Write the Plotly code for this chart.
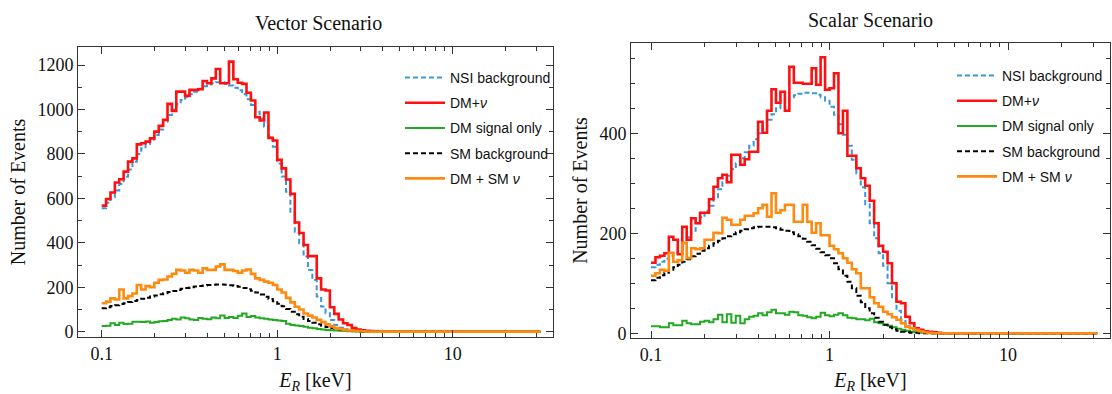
import numpy as np
import plotly.graph_objects as go

# log-spaced energy bins: 100 bins from 0.1 to 31.6 keV
edges = np.logspace(-1, 1.5, 101)

# ---------------- Vector scenario ----------------
vec_nsi = [555, 580, 605, 635, 665, 697, 730, 765, 800, 825,
           845, 865, 885, 910, 945, 975, 1000, 1025, 1042, 1055,
           1068, 1080, 1093, 1104, 1112, 1118, 1122, 1122, 1116, 1108,
           1098, 1086, 1068, 1046, 1020, 990, 958, 922, 878, 832,
           757, 698, 630, 540, 450, 398, 338, 278, 233, 158,
           113, 83, 53, 30, 18, 11, 6, 3, 2, 1,
           0, 0, 0, 0, 0, 0, 0, 0, 0, 0,
           0, 0, 0, 0, 0, 0, 0, 0, 0, 0,
           0, 0, 0, 0, 0, 0, 0, 0, 0, 0,
           0, 0, 0, 0, 0, 0, 0, 0, 0, 0]
vec_dmnu = [567, 597, 626, 671, 686, 720, 765, 780, 843, 848,
            855, 870, 900, 926, 953, 1025, 993, 1080, 1080, 1061,
            1088, 1088, 1091, 1128, 1118, 1140, 1182, 1118, 1118, 1215,
            1136, 1120, 1115, 1075, 1040, 965, 950, 986, 872, 860,
            773, 735, 685, 620, 491, 444, 390, 340, 340, 240,
            190, 185, 110, 80, 55, 38, 30, 16, 10, 6,
            4, 3, 2, 1, 1, 0, 0, 0, 0, 0,
            0, 0, 0, 0, 0, 0, 0, 0, 0, 0,
            0, 0, 0, 0, 0, 0, 0, 0, 0, 0,
            0, 0, 0, 0, 0, 0, 0, 0, 0, 0]
vec_dm = [26, 27, 38, 30, 40, 35, 36, 45, 45, 44,
          46, 40, 44, 47, 48, 52, 58, 55, 64, 60,
          55, 52, 62, 58, 56, 64, 60, 73, 62, 66,
          62, 72, 82, 66, 70, 64, 60, 58, 55, 52,
          50, 48, 36, 30, 28, 25, 22, 18, 15, 12,
          10, 8, 6, 5, 4, 3, 2, 1, 1, 0,
          0, 0, 0, 0, 0, 0, 0, 0, 0, 0,
          0, 0, 0, 0, 0, 0, 0, 0, 0, 0,
          0, 0, 0, 0, 0, 0, 0, 0, 0, 0,
          0, 0, 0, 0, 0, 0, 0, 0, 0, 0]
vec_sm = [105, 110, 115, 119, 124, 128, 133, 138, 143, 148,
          153, 158, 163, 168, 173, 178, 183, 188, 193, 197,
          200, 203, 206, 208, 210, 211, 212, 212, 211, 209,
          206, 202, 197, 191, 184, 176, 167, 157, 147, 137,
          126, 114, 102, 90, 78, 67, 57, 48, 40, 33,
          27, 21, 16, 12, 9, 7, 5, 3, 2, 1,
          1, 0, 0, 0, 0, 0, 0, 0, 0, 0,
          0, 0, 0, 0, 0, 0, 0, 0, 0, 0,
          0, 0, 0, 0, 0, 0, 0, 0, 0, 0,
          0, 0, 0, 0, 0, 0, 0, 0, 0, 0]
vec_dmsm = [128, 135, 150, 145, 190, 150, 160, 172, 210, 190,
            205, 200, 220, 233, 235, 248, 260, 278, 275, 265,
            278, 275, 265, 285, 278, 278, 293, 303, 278, 278,
            273, 265, 275, 280, 260, 240, 233, 225, 220, 210,
            190, 176, 152, 132, 112, 100, 82, 72, 64, 53,
            43, 33, 24, 16, 11, 8, 5, 4, 3, 2,
            1, 0, 0, 0, 0, 0, 0, 0, 0, 0,
            0, 0, 0, 0, 0, 0, 0, 0, 0, 0,
            0, 0, 0, 0, 0, 0, 0, 0, 0, 0,
            0, 0, 0, 0, 0, 0, 0, 0, 0, 0]

# ---------------- Scalar scenario ----------------
sca_nsi = [132, 137, 143, 149, 155, 161, 168, 180, 192, 205,
           220, 232, 245, 255, 272, 288, 302, 315, 328, 340,
           350, 362, 375, 388, 400, 413, 427, 438, 450, 458,
           466, 472, 476, 479, 481, 481, 480, 477, 472, 465,
           453, 437, 418, 397, 375, 347, 320, 292, 258, 220,
           190, 160, 135, 100, 70, 45, 27, 14, 8, 5,
           3, 2, 1, 0, 0, 0, 0, 0, 0, 0,
           0, 0, 0, 0, 0, 0, 0, 0, 0, 0,
           0, 0, 0, 0, 0, 0, 0, 0, 0, 0,
           0, 0, 0, 0, 0, 0, 0, 0, 0, 0]
sca_dmnu = [141, 152, 155, 160, 193, 187, 158, 213, 187, 230,
            220, 241, 241, 268, 293, 310, 317, 302, 357, 357,
            337, 348, 363, 363, 423, 401, 445, 488, 461, 483,
            445, 533, 501, 501, 499, 499, 530, 497, 552, 487,
            490, 520, 400, 445, 355, 355, 330, 310, 295, 265,
            220, 175, 163, 140, 100, 63, 60, 33, 20, 10,
            7, 4, 3, 2, 1, 0, 0, 0, 0, 0,
            0, 0, 0, 0, 0, 0, 0, 0, 0, 0,
            0, 0, 0, 0, 0, 0, 0, 0, 0, 0,
            0, 0, 0, 0, 0, 0, 0, 0, 0, 0]
sca_dm = [14, 14, 12, 12, 20, 16, 16, 25, 20, 18,
          18, 23, 25, 22, 28, 37, 22, 38, 21, 35,
          20, 28, 33, 35, 40, 36, 42, 47, 40, 40,
          37, 43, 42, 36, 35, 32, 30, 33, 41, 36,
          34, 37, 40, 36, 31, 30, 28, 28, 26, 29,
          22, 20, 17, 15, 12, 9, 7, 5, 3, 2,
          1, 1, 0, 0, 0, 0, 0, 0, 0, 0,
          0, 0, 0, 0, 0, 0, 0, 0, 0, 0,
          0, 0, 0, 0, 0, 0, 0, 0, 0, 0,
          0, 0, 0, 0, 0, 0, 0, 0, 0, 0]
sca_sm = [106, 111, 116, 121, 127, 132, 137, 143, 148, 154,
          159, 165, 170, 175, 180, 185, 190, 194, 198, 202,
          205, 208, 210, 212, 213, 213, 213, 212, 210, 207,
          205, 202, 198, 194, 189, 183, 176, 169, 162, 156,
          150, 140, 128, 115, 103, 90, 75, 62, 50, 40,
          31, 23, 17, 12, 8, 5, 3, 2, 1, 1,
          0, 0, 0, 0, 0, 0, 0, 0, 0, 0,
          0, 0, 0, 0, 0, 0, 0, 0, 0, 0,
          0, 0, 0, 0, 0, 0, 0, 0, 0, 0,
          0, 0, 0, 0, 0, 0, 0, 0, 0, 0]
sca_dmsm = [115, 120, 127, 125, 161, 143, 146, 181, 150, 170,
            168, 170, 187, 187, 201, 200, 231, 227, 217, 217,
            227, 235, 235, 240, 250, 257, 233, 280, 241, 246,
            257, 257, 223, 223, 257, 223, 201, 220, 196, 196,
            175, 168, 160, 150, 141, 128, 120, 90, 90, 72,
            60, 53, 43, 38, 32, 27, 20, 13, 10, 7,
            4, 2, 1, 0, 0, 0, 0, 0, 0, 0,
            0, 0, 0, 0, 0, 0, 0, 0, 0, 0,
            0, 0, 0, 0, 0, 0, 0, 0, 0, 0,
            0, 0, 0, 0, 0, 0, 0, 0, 0, 0]

names = ["NSI background", "DM+<i>ν</i>", "DM signal only", "SM background", "DM + SM <i>ν</i>"]
colors = ["#3a98d8", "#ff1010", "#22aa22", "#000000", "#ff8a10"]
dashes = ["5px,3px", "solid", "solid", "5px,3px", "solid"]
widths = [2, 2.6, 2, 2, 2.6]

W, H = 1112, 394
def px_x(p):
    return p / W
def px_y(p):
    return 1 - p / H

fig = go.Figure()
panels = [
    ([vec_nsi, vec_dmnu, vec_dm, vec_sm, vec_dmsm], "x", "y", "legend"),
    ([sca_nsi, sca_dmnu, sca_dm, sca_sm, sca_dmsm], "x2", "y2", "legend2"),
]
for k, (series, xa, ya, lg) in enumerate(panels):
    for j, vals in enumerate(series):
        yv = list(vals) + [vals[-1]]
        fig.add_trace(go.Scatter(
            x=edges, y=yv, mode="lines", line_shape="hv",
            line=dict(color=colors[j], width=widths[j], dash=dashes[j]),
            name=names[j], xaxis=xa, yaxis=ya, legend=lg,
            legendgroup=f"g{k}{j}", showlegend=True))

serif = "Liberation Serif"
minor_x = [0.2, 0.3, 0.4, 0.5, 0.6, 0.7, 0.8, 0.9, 2, 3, 4, 5, 6, 7, 8, 9, 20, 30]
axcommon = dict(showline=True, linecolor="#333", linewidth=1, mirror="allticks",
                ticks="inside", ticklen=7, tickcolor="#333", showgrid=False,
                zeroline=False, tickfont=dict(family=serif, size=18, color="#111"))

xcommon = dict(type="log", tickmode="array", tickvals=[0.1, 1, 10],
               ticktext=["0.1", "1", "10"],
               minor=dict(tickmode="array", tickvals=minor_x, ticks="inside", ticklen=4, tickcolor="#333"),
               title=dict(text="<i>E</i><sub><i>R</i></sub> [keV]", font=dict(family=serif, size=20, color="#111"), standoff=10),
               automargin=False, **axcommon)

fig.update_layout(
    width=W, height=H, margin=dict(l=0, r=0, t=0, b=0),
    paper_bgcolor="white", plot_bgcolor="white",
    xaxis=dict(domain=[px_x(78), px_x(553)], range=[-1.135, 1.571], anchor="y", **xcommon),
    xaxis2=dict(domain=[px_x(631), px_x(1110)], range=[-1.112, 1.571], anchor="y2", **xcommon),
    yaxis=dict(domain=[px_y(337), px_y(47)], range=[-24, 1281], anchor="x",
               tickmode="array", tickvals=[0, 200, 400, 600, 800, 1000, 1200],
               minor=dict(dtick=100, ticks="inside", ticklen=4, tickcolor="#333"),
               title=dict(text="Number of Events", font=dict(family=serif, size=20, color="#111"), standoff=6),
               automargin=False, **axcommon),
    yaxis2=dict(domain=[px_y(338), px_y(43)], range=[-9.4, 580.6], anchor="x2",
                tickmode="array", tickvals=[0, 200, 400],
                minor=dict(dtick=50, ticks="inside", ticklen=4, tickcolor="#333"),
                title=dict(text="Number of Events", font=dict(family=serif, size=20, color="#111"), standoff=6),
                automargin=False, **axcommon),
    legend=dict(x=px_x(400), y=px_y(62), xanchor="left", yanchor="top",
                bgcolor="rgba(0,0,0,0)", tracegroupgap=4, itemwidth=40,
                font=dict(family="Liberation Sans", size=14, color="#111")),
    legend2=dict(x=px_x(952), y=px_y(60), xanchor="left", yanchor="top",
                 bgcolor="rgba(0,0,0,0)", tracegroupgap=4, itemwidth=40,
                 font=dict(family="Liberation Sans", size=14, color="#111")),
    annotations=[
        dict(text="Vector Scenario", x=px_x(318), y=px_y(23), xref="paper", yref="paper",
             xanchor="center", yanchor="middle",
             showarrow=False, font=dict(family=serif, size=20, color="#111")),
        dict(text="Scalar Scenario", x=px_x(870), y=px_y(20), xref="paper", yref="paper",
             xanchor="center", yanchor="middle",
             showarrow=False, font=dict(family=serif, size=20, color="#111")),
    ],
)

fig.write_html("out.html")
